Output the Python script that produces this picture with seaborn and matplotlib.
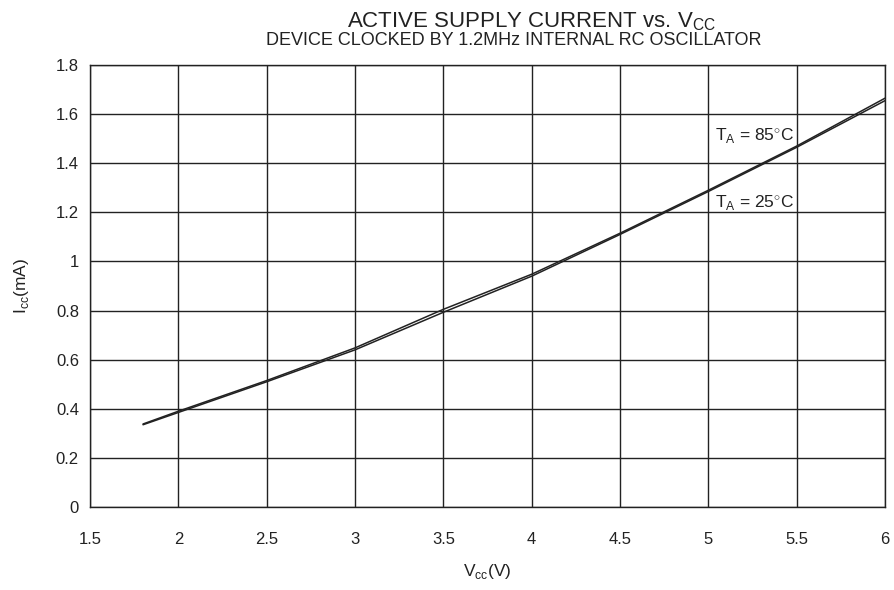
import matplotlib
matplotlib.use("Agg")
import matplotlib.pyplot as plt
import seaborn as sns
import pandas as pd

# Supply voltage (V) and measured active supply current (mA)
vcc = [1.8, 2.0, 2.5, 3.0, 3.5, 4.0, 4.5, 5.0, 5.5, 6.0]
icc_85c = [0.338, 0.390, 0.515, 0.648, 0.805, 0.948, 1.115, 1.290, 1.470, 1.665]
icc_25c = [0.335, 0.385, 0.510, 0.640, 0.793, 0.940, 1.110, 1.285, 1.465, 1.655]

x_ticks = [1.5, 2, 2.5, 3, 3.5, 4, 4.5, 5, 5.5, 6]
x_tick_labels = ["1.5", "2", "2.5", "3", "3.5", "4", "4.5", "5", "5.5", "6"]
y_ticks = [0, 0.2, 0.4, 0.6, 0.8, 1.0, 1.2, 1.4, 1.6, 1.8]
y_tick_labels = ["0", "0.2", "0.4", "0.6", "0.8", "1", "1.2", "1.4", "1.6", "1.8"]

df = pd.concat([
    pd.DataFrame({"Vcc": vcc, "Icc": icc_85c, "temp": "85"}),
    pd.DataFrame({"Vcc": vcc, "Icc": icc_25c, "temp": "25"}),
])

sns.set_style("white")
plt.rcParams["font.family"] = ["Liberation Sans", "DejaVu Sans"]
plt.rcParams["mathtext.fontset"] = "custom"
plt.rcParams["mathtext.rm"] = "Liberation Sans"
ink = "#222222"

fig = plt.figure(figsize=(8.95, 5.9), dpi=100)
ax = fig.add_axes([0.1006, 0.1407, 0.8883, 0.7491])

sns.lineplot(data=df, x="Vcc", y="Icc", hue="temp", palette=[ink, ink],
             linewidth=1.1, legend=False, ax=ax)

ax.set_xlim(1.5, 6)
ax.set_ylim(0, 1.8)
ax.set_xticks(x_ticks)
ax.set_xticklabels(x_tick_labels)
ax.set_yticks(y_ticks)
ax.set_yticklabels(y_tick_labels)
ax.grid(True, color=ink, linewidth=1.0)
for s in ax.spines.values():
    s.set_color(ink)
    s.set_linewidth(1.0)
ax.tick_params(axis="both", length=0, labelsize=12, colors=ink)
ax.tick_params(axis="y", pad=8)
ax.tick_params(axis="x", pad=18)

ax.set_xlabel(r"V$_{\mathregular{cc}}$(V)", fontsize=12.5, color=ink, labelpad=11)
ax.set_ylabel(r"I$_{\mathregular{cc}}$(mA)", fontsize=12.5, color=ink, labelpad=18)

fig.text(0.594, 1 - 27 / 590, r"ACTIVE SUPPLY CURRENT vs. V$_{\mathregular{CC}}$",
         ha="center", va="baseline", fontsize=16, color=ink)
fig.text(0.574, 1 - 45 / 590, "DEVICE CLOCKED BY 1.2MHz INTERNAL RC OSCILLATOR",
         ha="center", va="baseline", fontsize=13, color=ink)

ax.text(5.037, 1.49, r"T$_{\mathregular{A}}$ = 85$^{\circ}$C", fontsize=12.5, color=ink, va="baseline")
ax.text(5.037, 1.217, r"T$_{\mathregular{A}}$ = 25$^{\circ}$C", fontsize=12.5, color=ink, va="baseline")

fig.savefig("out.png", dpi=100)
